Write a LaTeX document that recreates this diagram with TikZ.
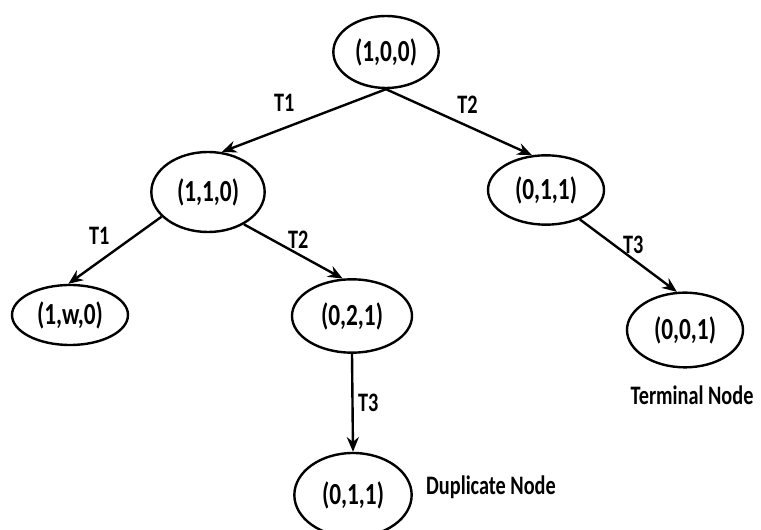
\documentclass[tikz,border=0pt]{standalone}
\usepackage{fontspec}
\setmainfont{Carlito}[FakeStretch=0.76,
    BoldFont={Carlito Bold},BoldFeatures={FakeStretch=0.76}]
\usetikzlibrary{shapes.geometric}
\usetikzlibrary{arrows.meta}
\usetikzlibrary{positioning}

\begin{document}
\begin{tikzpicture}[x=0.75pt,y=-0.75pt,line width=1.8pt,
    state/.style={draw,ellipse,inner sep=0pt,minimum width=87pt,minimum height=52pt,
        font=\fontsize{23}{25}\selectfont\bfseries},
    lbl/.style={font=\fontsize{20}{22}\selectfont\bfseries},
    >={Stealth[length=11pt,width=9pt]}]
    \useasboundingbox (0,0) rectangle (761,530);

    \node[state,minimum width=79pt,minimum height=54pt] (s100) at (386,52) {(1,0,0)};
    \node[state,minimum width=85pt,minimum height=60pt] (s110) at (208,192) {(1,1,0)};
    \node[state,minimum height=45pt] (s1w0) at (70,315) {(1,w,0)};
    \node[state,minimum width=90pt,minimum height=55pt] (s021) at (352,316) {(0,2,1)};
    \node[state,minimum width=88pt,minimum height=63pt] (dup) at (353,495) {(0,1,1)};
    \node[state] (s011) at (546,190) {(0,1,1)};
    \node[state,minimum height=56pt] (s001) at (685,330) {(0,0,1)};

    \draw [->] (s100.south) --node[lbl,above left=4pt]{T1} (s110.71);
    \draw [->] (s100.south) --node[lbl,above right,pos=0.45]{T2} (s011.112);
    \draw [->] (s110.208) --node[lbl,above left]{T1} (s1w0.93);
    \draw [->] (s110.318) --node[lbl,above,pos=0.55]{T2} (s021.104);
    \draw [->] (s011.319) --node[lbl,above,pos=0.55]{T3} (s001.102);
    \draw [->] (s021.south) --node[lbl,right]{T3} (dup.north);

    \node[lbl] (dlbl) at (491,487) {Duplicate Node};
    \node[lbl] (tlbl) at (692,395) {Terminal Node};
\end{tikzpicture}
\end{document}
